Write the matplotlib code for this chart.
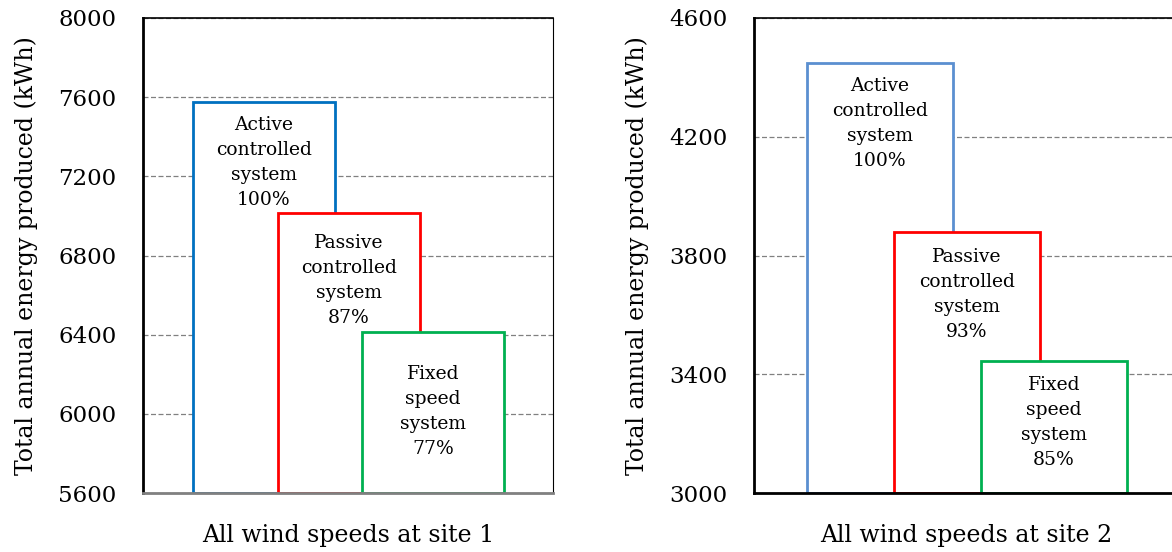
import matplotlib
matplotlib.use("Agg")
import matplotlib.pyplot as plt

plt.rcParams['font.family'] = ['DejaVu Serif']

systems = ["Active\ncontrolled\nsystem", "Passive\ncontrolled\nsystem", "Fixed\nspeed\nsystem"]

site1_energy = [7576, 7015, 6414]
site1_share = ["100%", "87%", "77%"]
site1_label_y = [7272, 6676, 6014]
site1_ticks = [5600, 6000, 6400, 6800, 7200, 7600, 8000]

site2_energy = [4448, 3879, 3445]
site2_share = ["100%", "93%", "85%"]
site2_label_y = [4246, 3670, 3236]
site2_ticks = [3000, 3400, 3800, 4200, 4600]

W, H = 1172, 552
fig = plt.figure(figsize=(W / 100, H / 100), dpi=100)


def panel(rect, energy, share, label_y, ticks, colors, xlabel, bottom_color, lefts, width):
    ax = fig.add_axes(rect)
    ax.set_xlim(0, 1)
    ax.set_ylim(ticks[0], ticks[-1])
    ax.set_yticks(ticks)
    ax.grid(axis='y', linestyle=(0, (4, 2)), color='#808080', linewidth=0.9, zorder=0)
    ax.set_axisbelow(True)
    base = ticks[0]
    for x0, val, c, name, pct, ty in zip(lefts, energy, colors, systems, share, label_y):
        ax.bar(x0, val - base, width=width, bottom=base, align='edge',
               facecolor='white', edgecolor=c, linewidth=2, zorder=2)
        ax.text(x0 + width / 2, ty, name + "\n" + pct, ha='center', va='center',
                fontsize=13.5, linespacing=1.5, zorder=3)
    ax.set_xticks([])
    ax.tick_params(axis='y', length=0, labelsize=16.5, pad=19)
    ax.set_xlabel(xlabel, fontsize=17, labelpad=22)
    ax.set_ylabel("Total annual energy produced (kWh)", fontsize=17, labelpad=15)
    for s in ax.spines.values():
        s.set_linewidth(1.2)
        s.set_color('black')
    ax.spines['left'].set_linewidth(2)
    ax.spines['bottom'].set_linewidth(2)
    ax.spines['bottom'].set_color(bottom_color)
    ax.spines['right'].set_linewidth(0.8)
    return ax


panel([143 / W, 59 / H, 410 / W, 475 / H], site1_energy, site1_share, site1_label_y,
      site1_ticks, ['#0070C0', '#FF0000', '#00B050'], "All wind speeds at site 1",
      '#808080', [0.122, 0.329, 0.534], 0.346)

panel([754 / W, 59 / H, 424 / W, 475 / H], site2_energy, site2_share, site2_label_y,
      site2_ticks, ['#5B8FD0', '#FF0000', '#00B050'], "All wind speeds at site 2",
      'black', [0.125, 0.330, 0.535], 0.344)

fig.savefig("out.png", dpi=100)
